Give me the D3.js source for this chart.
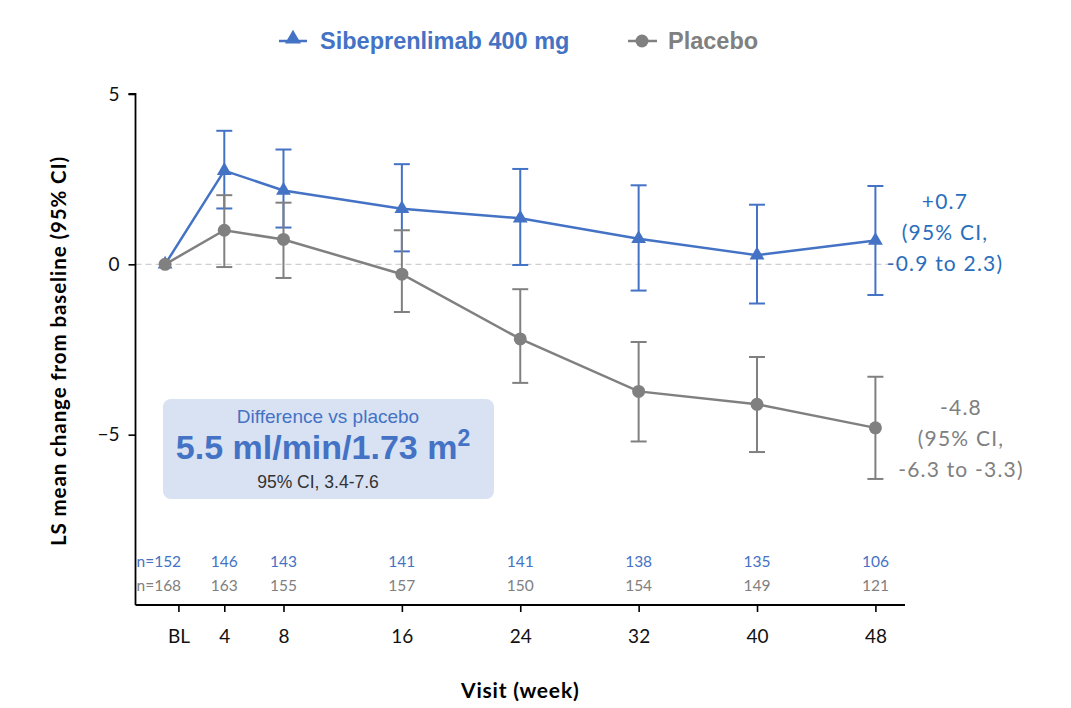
<!DOCTYPE html>
<html><head><meta charset="utf-8">
<script src="https://cdn.jsdelivr.net/npm/d3@7"></script>
<style>body{margin:0;background:#fff}svg{display:block}</style>
</head><body>
<svg id="c" width="1071" height="708"></svg>
<script>
// ---- data ----
const weeks = [0, 4, 8, 16, 24, 32, 40, 48];
const tickLabels = ["BL", "4", "8", "16", "24", "32", "40", "48"];
const tickWeeks = [0.9, 4, 8, 16, 24, 32, 40, 48];
const sibMean = [0, 2.75, 2.17, 1.63, 1.35, 0.75, 0.27, 0.7];
const sibLow  = [null, 1.64, 1.08, 0.38, -0.02, -0.77, -1.15, -0.9];
const sibHigh = [null, 3.92, 3.37, 2.94, 2.80, 2.32, 1.75, 2.3];
const plaMean = [0, 1.0, 0.73, -0.29, -2.19, -3.73, -4.11, -4.8];
const plaLow  = [null, -0.08, -0.40, -1.40, -3.48, -5.20, -5.51, -6.3];
const plaHigh = [null, 2.03, 1.81, 1.00, -0.73, -2.28, -2.72, -3.3];
const sibN = ["n=152", "146", "143", "141", "141", "138", "135", "106"];
const plaN = ["n=168", "163", "155", "157", "150", "154", "149", "121"];
const yTicks = [5, 0, -5];
const seriesNames = ["Sibeprenlimab 400 mg", "Placebo"];
const sibEndLabel = ["+0.7", "(95% CI,", "-0.9 to 2.3)"];
const plaEndLabel = ["-4.8", "(95% CI,", "-6.3 to -3.3)"];
const boxLines = ["Difference vs placebo", "5.5 ml/min/1.73 m", "95% CI, 3.4-7.6"];

// ---- styles ----
const BLUE = "#4472c4", GRAY = "#808080", BLUE_T = "#2a6ebb";
const narrow = "Lato, 'Liberation Sans', sans-serif";
const arial = "'Liberation Sans', Arial, sans-serif";

const svg = d3.select("#c");
const x = d3.scaleLinear().domain([-2, 50]).range([135.5, 905]);
const y = d3.scaleLinear().domain([-10, 5]).range([605, 94]);

// zero line
svg.append("line").attr("x1", x(-2)).attr("x2", x(50)).attr("y1", y(0)).attr("y2", y(0))
  .attr("stroke", "#cfcfcf").attr("stroke-width", 1.3).attr("stroke-dasharray", "6,4");

// y axis
const ya = svg.append("g").attr("transform", `translate(${x(-2)},0)`)
  .call(d3.axisLeft(y).tickValues(yTicks).tickSize(7).tickPadding(9).tickFormat(d => d < 0 ? "\u2212" + Math.abs(d) : d));
ya.select(".domain").attr("stroke", "#000").attr("stroke-width", 1.8).attr("d", `M-7,${y(5)}H0V${y(-10)}`);
ya.selectAll(".tick line").attr("stroke", "#000").attr("stroke-width", 1.6);
ya.selectAll("text").attr("font-family", narrow).attr("font-size", 19).attr("fill", "#111");

// x axis
const xa = svg.append("g").attr("transform", `translate(0,${y(-10)})`)
  .call(d3.axisBottom(x).tickValues(tickWeeks).tickSize(7).tickPadding(18)
    .tickFormat((d, i) => tickLabels[i]));
xa.select(".domain").attr("stroke", "#000").attr("stroke-width", 1.8).attr("d", `M${x(-2)},0H${x(50)}`);
xa.selectAll(".tick line").attr("stroke", "#000").attr("stroke-width", 1.6);
xa.selectAll("text").attr("font-family", narrow).attr("font-size", 19).attr("fill", "#111");

// axis titles
svg.append("text").attr("x", x(24)).attr("y", 698).attr("text-anchor", "middle")
  .attr("font-family", narrow).attr("font-weight", "bold").attr("font-size", 21).attr("letter-spacing", 0.8)
  .attr("fill", "#000").text("Visit (week)");
svg.append("text").attr("transform", `translate(66,351) rotate(-90)`).attr("text-anchor", "middle")
  .attr("font-family", narrow).attr("font-weight", "bold").attr("font-size", 20.5).attr("letter-spacing", 0.9)
  .attr("fill", "#000").text("LS mean change from baseline (95% CI)");

// n rows
const nRows = [[sibN, BLUE, 567], [plaN, GRAY, 591]];
nRows.forEach(([arr, col, yy]) => {
  svg.append("g").selectAll("text").data(arr).join("text")
    .attr("x", (d, i) => i === 0 ? x(-2) + 1 : x(weeks[i]))
    .attr("y", yy).attr("text-anchor", (d, i) => i === 0 ? "start" : "middle")
    .attr("font-family", narrow).attr("font-size", 15.5).attr("fill", col).text(d => d);
});

// series
function drawSeries(mean, low, high, col, marker) {
  const g = svg.append("g");
  const pts = weeks.map((w, i) => ({ w, m: mean[i], lo: low[i], hi: high[i] }));
  const eb = pts.filter(p => p.lo !== null);
  g.selectAll(".v").data(eb).join("line").attr("x1", p => x(p.w)).attr("x2", p => x(p.w))
    .attr("y1", p => y(p.lo)).attr("y2", p => y(p.hi)).attr("stroke", col).attr("stroke-width", 2);
  ["lo", "hi"].forEach(k => {
    g.selectAll(".c" + k).data(eb).join("line").attr("x1", p => x(p.w) - 8).attr("x2", p => x(p.w) + 8)
      .attr("y1", p => y(p[k])).attr("y2", p => y(p[k])).attr("stroke", col).attr("stroke-width", 2);
  });
  g.append("path").datum(pts).attr("fill", "none").attr("stroke", col).attr("stroke-width", 2.5)
    .attr("d", d3.line().x(p => x(p.w)).y(p => y(p.m)));
  if (marker === "tri") {
    g.selectAll(".m").data(pts).join("path").attr("transform", p => `translate(${x(p.w)},${y(p.m)})`)
      .attr("d", d3.symbol(d3.symbolTriangle, 95)).attr("fill", col);
  } else {
    g.selectAll(".m").data(pts).join("circle").attr("cx", p => x(p.w)).attr("cy", p => y(p.m))
      .attr("r", 6.5).attr("fill", col);
  }
}
drawSeries(sibMean, sibLow, sibHigh, BLUE, "tri");
drawSeries(plaMean, plaLow, plaHigh, GRAY, "circ");

// end labels
function endLabel(lines, cx, ys, col) {
  svg.append("g").selectAll("text").data(lines).join("text").attr("x", cx).attr("y", (d, i) => ys[i])
    .attr("text-anchor", "middle").attr("font-family", narrow).attr("font-size", 21).attr("letter-spacing", 1.2)
    .attr("fill", col).text(d => d);
}
endLabel(sibEndLabel, 945, [209, 240, 271], BLUE_T);
endLabel(plaEndLabel, 961, [415, 446, 477], GRAY);

// legend
const lg = svg.append("g");
lg.append("line").attr("x1", 279).attr("x2", 307).attr("y1", 41).attr("y2", 41).attr("stroke", BLUE).attr("stroke-width", 2.5);
lg.append("path").attr("transform", "translate(293,39)").attr("d", d3.symbol(d3.symbolTriangle, 110)).attr("fill", BLUE);
lg.append("text").attr("x", 320).attr("y", 49).attr("font-family", arial).attr("font-weight", "bold")
  .attr("font-size", 23.5).attr("fill", BLUE).text(seriesNames[0]);
lg.append("line").attr("x1", 628).attr("x2", 657).attr("y1", 41).attr("y2", 41).attr("stroke", GRAY).attr("stroke-width", 2.5);
lg.append("circle").attr("cx", 642).attr("cy", 41).attr("r", 6.5).attr("fill", GRAY);
lg.append("text").attr("x", 668).attr("y", 49).attr("font-family", arial).attr("font-weight", "bold")
  .attr("font-size", 23.5).attr("fill", GRAY).text(seriesNames[1]);

// difference box
const bx = svg.append("g");
bx.append("rect").attr("x", 163).attr("y", 399).attr("width", 331).attr("height", 100).attr("rx", 8)
  .attr("fill", "#d9e2f3");
bx.append("text").attr("x", 328).attr("y", 423).attr("text-anchor", "middle").attr("font-family", arial)
  .attr("font-size", 19).attr("fill", BLUE).text(boxLines[0]);
const big = bx.append("text").attr("x", 323).attr("y", 459).attr("text-anchor", "middle").attr("font-family", arial)
  .attr("font-weight", "bold").attr("font-size", 34).attr("fill", BLUE);
big.append("tspan").text(boxLines[1]);
big.append("tspan").attr("font-size", 23).attr("dy", -13).text("2");
bx.append("text").attr("x", 318).attr("y", 488).attr("text-anchor", "middle").attr("font-family", arial)
  .attr("font-size", 17.5).attr("fill", "#333").text(boxLines[2]);
</script>
</body></html>
